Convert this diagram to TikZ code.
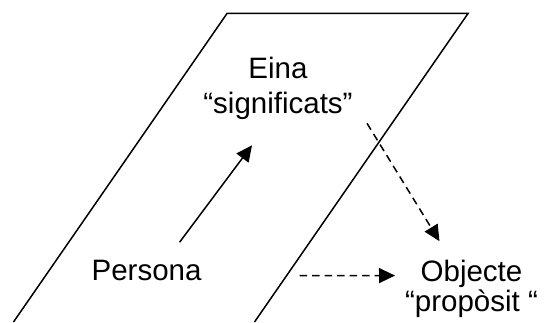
\documentclass[tikz,border=0pt]{standalone}
\usepackage{fontspec}
\setmainfont{Liberation Sans}
\usetikzlibrary{arrows.meta, positioning}

\begin{document}
\begin{tikzpicture}[
			x=1pt, y=1pt,
			frame/.style={line width=1.5pt},
			concept/.style={inner sep=0pt, align=center, font=\fontsize{29.5}{35.5}\selectfont},
			uses/.style={line width=1.5pt, -{Triangle[length=16pt, width=15pt]}},
			aims/.style={uses, dash pattern=on 7.5pt off 5pt}
			]
			\useasboundingbox (0,0) rectangle (545,322);
			% the plane of the tool
			\draw[frame] (13.5,0) -- (227,308.5) -- (468,308.5) -- (254.5,0);
			\node[concept, anchor=base] (persona) at (146.6,41.3) {Persona};
			\node[concept] (eina) at (278,233.4) {Eina\\“significats”};
			\node[concept, font=\fontsize{29.5}{30}\selectfont] (objecte) at (471.5,32.8) {Objecte\\“propòsit “};
			\draw[uses] ([xshift=33pt, yshift=18pt]persona.north) -- ([xshift=-26pt, yshift=-25pt]eina.south);
			\draw[aims] ([xshift=89pt, yshift=-3pt]eina.south) -- ([xshift=-32pt, yshift=19pt]objecte.north);
			\draw[aims] ([xshift=153pt, yshift=5pt]persona.base) -- ([xshift=-76.5pt, yshift=-15.3pt]objecte.north);
		\end{tikzpicture}
\end{document}
